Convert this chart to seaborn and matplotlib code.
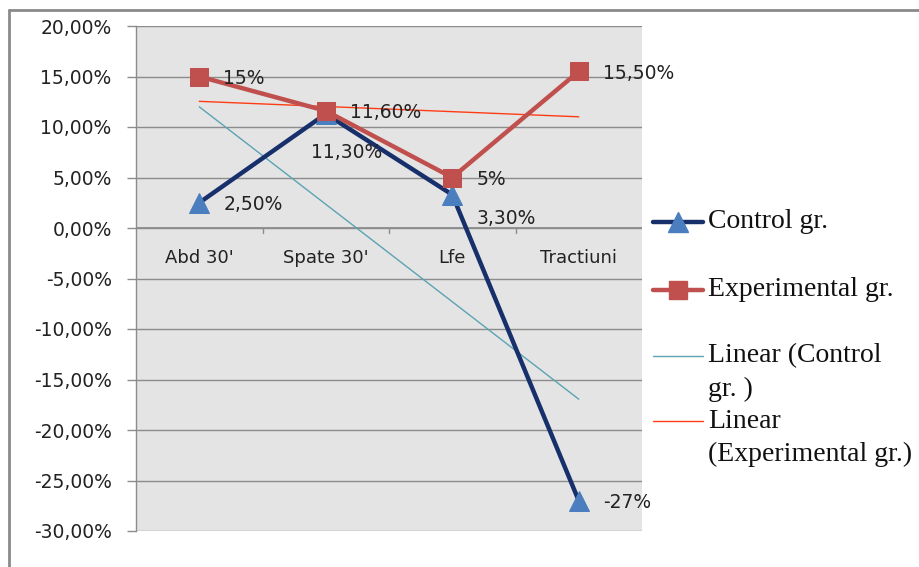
import numpy as np
import pandas as pd
import matplotlib
matplotlib.use("Agg")
import matplotlib.pyplot as plt
from matplotlib.lines import Line2D
import seaborn as sns

categories = ["Abd 30'", "Spate 30'", "Lfe", "Tractiuni"]
control = [2.5, 11.3, 3.3, -27.0]
experimental = [15.0, 11.6, 5.0, 15.5]
control_labels = ["2,50%", "11,30%", "3,30%", "-27%"]
experimental_labels = ["15%", "11,60%", "5%", "15,50%"]
y_ticks = [20, 15, 10, 5, 0, -5, -10, -15, -20, -25, -30]
legend_labels = ["Control gr.", "Experimental gr.", "Linear (Control\ngr. )", "Linear\n(Experimental gr.)"]

sns.set_theme(style="white")
plt.rcParams["font.family"] = ["DejaVu Sans"]

C_LINE = "#17306b"
C_TRI = "#4a7ebf"
C_EXP = "#c0504d"
C_TREND_C = "#5ba3b5"
C_TREND_E = "#ff3c14"
TXT = "#222222"

W, H = 920, 567
fig = plt.figure(figsize=(W / 100, H / 100), dpi=100)
ax = fig.add_axes([136 / W, 1 - 531 / H, (642 - 136) / W, (531 - 26) / H])
ax.set_facecolor("#e4e4e4")

x = np.arange(len(categories)) + 0.5
df = pd.DataFrame({"x": np.concatenate([x, x]),
                   "v": control + experimental,
                   "g": ["Control gr."] * 4 + ["Experimental gr."] * 4})

# gridlines
for t in y_ticks:
    ax.axhline(t, color="#8c8c8c", lw=1.0, zorder=1)

# linear trend lines
xi = np.arange(len(categories))
for vals, col in [(control, C_TREND_C), (experimental, C_TREND_E)]:
    k, b = np.polyfit(xi, vals, 1)
    sns.lineplot(x=x, y=k * xi + b, ax=ax, color=col, lw=1.0, zorder=3, legend=False)

# main series
sns.lineplot(data=df[df.g == "Control gr."], x="x", y="v", ax=ax, color=C_LINE,
             lw=3.2, marker="^", markersize=15, markerfacecolor=C_TRI,
             markeredgecolor=C_TRI, zorder=4, legend=False)
sns.lineplot(data=df[df.g == "Experimental gr."], x="x", y="v", ax=ax, color=C_EXP,
             lw=3.2, marker="s", markersize=13.5, markerfacecolor=C_EXP,
             markeredgecolor=C_EXP, zorder=5, legend=False)

# data labels
lab_kw = dict(fontsize=13.5, color=TXT, zorder=6, clip_on=False)
offsets_c = [(0.19, -0.2), (-0.12, -3.8), (0.19, -2.4), (0.19, -0.2)]
offsets_e = [(0.19, -0.2), (0.19, -0.2), (0.19, -0.2), (0.19, -0.2)]
for xv, v, s, (dx, dy) in zip(x, control, control_labels, offsets_c):
    ax.text(xv + dx, v + dy, s, ha="left", va="center", **lab_kw)
for xv, v, s, (dx, dy) in zip(x, experimental, experimental_labels, offsets_e):
    ax.text(xv + dx, v + dy, s, ha="left", va="center", **lab_kw)

# category labels on the zero line
for xv, c in zip(x, categories):
    ax.text(xv, -3.0, c, ha="center", va="center", fontsize=13, color=TXT, zorder=6)
for b in [1, 2, 3]:
    ax.plot([b, b], [0, -0.5], color="#8c8c8c", lw=1.0, zorder=2)
ax.axhline(0, color="#8c8c8c", lw=1.3, zorder=2)

ax.set_xlim(0, 4)
ax.set_ylim(-30, 20)
ax.set_xticks([])
ax.set_yticks(y_ticks)
ax.set_yticklabels([f"{t},00%" for t in y_ticks], fontsize=13.5, color=TXT)
ax.tick_params(axis="y", length=6.5, width=1, color="#8c8c8c", direction="out", pad=11, left=True)
ax.set_xlabel("")
ax.set_ylabel("")
for s in ["top", "right", "bottom"]:
    ax.spines[s].set_visible(False)
ax.spines["left"].set_color("#8c8c8c")
ax.spines["left"].set_linewidth(1.0)

# legend, placed beside the plot area
def fx(px):
    return px / W

def fy(py):
    return 1 - py / H

leg_font = {"family": "Liberation Serif", "size": 20, "color": "#111111"}
handle_specs = [
    dict(color=C_LINE, lw=3.2, marker="^", markersize=15, markerfacecolor=C_TRI, markeredgecolor=C_TRI),
    dict(color=C_EXP, lw=3.2, marker="s", markersize=13.5, markerfacecolor=C_EXP, markeredgecolor=C_EXP),
    dict(color=C_TREND_C, lw=1.0),
    dict(color=C_TREND_E, lw=1.0),
]
row_y = [222, 290, 356, 421]
line_gap = 33
for spec, label, ry in zip(handle_specs, legend_labels, row_y):
    fig.add_artist(Line2D([fx(653), fx(678), fx(703)], [fy(ry)] * 3, transform=fig.transFigure,
                          markevery=[1], **spec))
    for i, part in enumerate(label.split("\n")):
        fig.text(fx(708), fy(ry + i * line_gap), part, ha="left", va="center", **leg_font)

# outer chart frame
fig.add_artist(Line2D([fx(9), fx(9)], [0, fy(10)], transform=fig.transFigure,
                      color="#8a8a8a", lw=2))
fig.add_artist(Line2D([fx(9), 1], [fy(10), fy(10)], transform=fig.transFigure,
                      color="#8a8a8a", lw=2))

fig.savefig("out.png", dpi=100)
